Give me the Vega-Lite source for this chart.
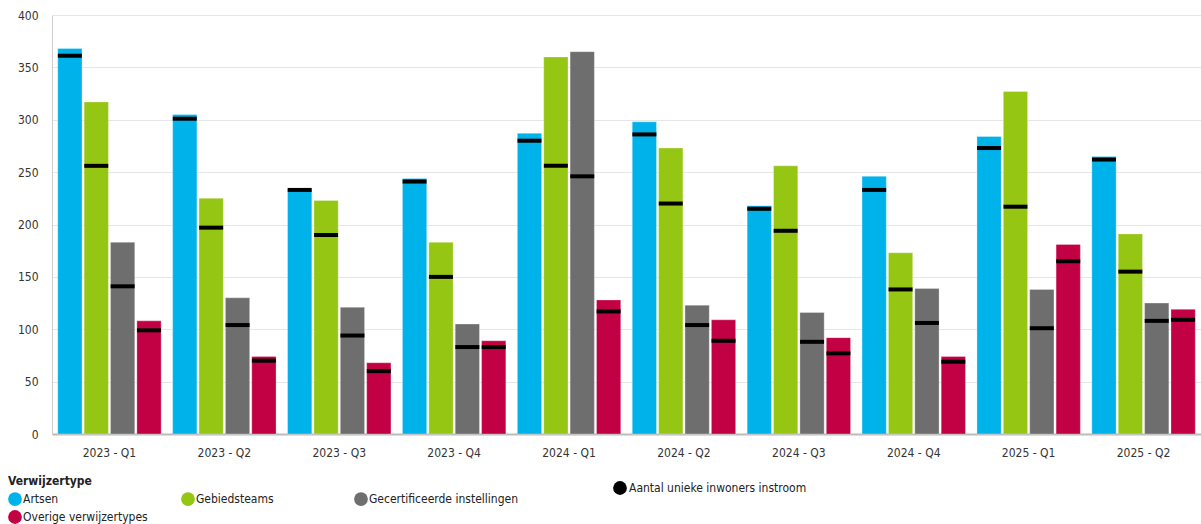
{
  "$schema": "https://vega.github.io/schema/vega-lite/v6.json",
  "width": 1149,
  "height": 419,
  "autosize": {"type": "none"},
  "padding": {"left": 52, "top": 15, "right": 0, "bottom": 90},
  "background": "#ffffff",
  "config": {
    "view": {"stroke": null},
    "font": "Liberation Sans Narrow, DejaVu Sans Condensed, Liberation Sans, sans-serif",
    "axis": {"labelFont": "Liberation Sans Narrow, DejaVu Sans Condensed, sans-serif", "labelFontSize": 12, "labelColor": "#333333"},
    "legend": {"labelFont": "Liberation Sans Narrow, DejaVu Sans Condensed, sans-serif", "titleFont": "Liberation Sans Narrow, DejaVu Sans Condensed, sans-serif"}
  },
  "data": {
    "values": [
      {"kwartaal": "2023 - Q1", "type": "Artsen", "aantal": 368, "uniek": 361},
      {"kwartaal": "2023 - Q1", "type": "Gebiedsteams", "aantal": 317, "uniek": 256},
      {"kwartaal": "2023 - Q1", "type": "Gecertificeerde instellingen", "aantal": 183, "uniek": 141},
      {"kwartaal": "2023 - Q1", "type": "Overige verwijzertypes", "aantal": 108, "uniek": 99},
      {"kwartaal": "2023 - Q2", "type": "Artsen", "aantal": 305, "uniek": 301},
      {"kwartaal": "2023 - Q2", "type": "Gebiedsteams", "aantal": 225, "uniek": 197},
      {"kwartaal": "2023 - Q2", "type": "Gecertificeerde instellingen", "aantal": 130, "uniek": 104},
      {"kwartaal": "2023 - Q2", "type": "Overige verwijzertypes", "aantal": 74, "uniek": 70},
      {"kwartaal": "2023 - Q3", "type": "Artsen", "aantal": 234, "uniek": 233},
      {"kwartaal": "2023 - Q3", "type": "Gebiedsteams", "aantal": 223, "uniek": 190},
      {"kwartaal": "2023 - Q3", "type": "Gecertificeerde instellingen", "aantal": 121, "uniek": 94},
      {"kwartaal": "2023 - Q3", "type": "Overige verwijzertypes", "aantal": 68, "uniek": 60},
      {"kwartaal": "2023 - Q4", "type": "Artsen", "aantal": 244, "uniek": 241},
      {"kwartaal": "2023 - Q4", "type": "Gebiedsteams", "aantal": 183, "uniek": 150},
      {"kwartaal": "2023 - Q4", "type": "Gecertificeerde instellingen", "aantal": 105, "uniek": 83},
      {"kwartaal": "2023 - Q4", "type": "Overige verwijzertypes", "aantal": 89, "uniek": 83},
      {"kwartaal": "2024 - Q1", "type": "Artsen", "aantal": 287, "uniek": 280},
      {"kwartaal": "2024 - Q1", "type": "Gebiedsteams", "aantal": 360, "uniek": 256},
      {"kwartaal": "2024 - Q1", "type": "Gecertificeerde instellingen", "aantal": 365, "uniek": 246},
      {"kwartaal": "2024 - Q1", "type": "Overige verwijzertypes", "aantal": 128, "uniek": 117},
      {"kwartaal": "2024 - Q2", "type": "Artsen", "aantal": 298, "uniek": 286},
      {"kwartaal": "2024 - Q2", "type": "Gebiedsteams", "aantal": 273, "uniek": 220},
      {"kwartaal": "2024 - Q2", "type": "Gecertificeerde instellingen", "aantal": 123, "uniek": 104},
      {"kwartaal": "2024 - Q2", "type": "Overige verwijzertypes", "aantal": 109, "uniek": 89},
      {"kwartaal": "2024 - Q3", "type": "Artsen", "aantal": 218, "uniek": 215},
      {"kwartaal": "2024 - Q3", "type": "Gebiedsteams", "aantal": 256, "uniek": 194},
      {"kwartaal": "2024 - Q3", "type": "Gecertificeerde instellingen", "aantal": 116, "uniek": 88},
      {"kwartaal": "2024 - Q3", "type": "Overige verwijzertypes", "aantal": 92, "uniek": 77},
      {"kwartaal": "2024 - Q4", "type": "Artsen", "aantal": 246, "uniek": 233},
      {"kwartaal": "2024 - Q4", "type": "Gebiedsteams", "aantal": 173, "uniek": 138},
      {"kwartaal": "2024 - Q4", "type": "Gecertificeerde instellingen", "aantal": 139, "uniek": 106},
      {"kwartaal": "2024 - Q4", "type": "Overige verwijzertypes", "aantal": 74, "uniek": 69},
      {"kwartaal": "2025 - Q1", "type": "Artsen", "aantal": 284, "uniek": 273},
      {"kwartaal": "2025 - Q1", "type": "Gebiedsteams", "aantal": 327, "uniek": 217},
      {"kwartaal": "2025 - Q1", "type": "Gecertificeerde instellingen", "aantal": 138, "uniek": 101},
      {"kwartaal": "2025 - Q1", "type": "Overige verwijzertypes", "aantal": 181, "uniek": 165},
      {"kwartaal": "2025 - Q2", "type": "Artsen", "aantal": 265, "uniek": 262},
      {"kwartaal": "2025 - Q2", "type": "Gebiedsteams", "aantal": 191, "uniek": 155},
      {"kwartaal": "2025 - Q2", "type": "Gecertificeerde instellingen", "aantal": 125, "uniek": 108},
      {"kwartaal": "2025 - Q2", "type": "Overige verwijzertypes", "aantal": 119, "uniek": 109}
    ]
  },
  "encoding": {
    "x": {
      "field": "kwartaal", "type": "nominal",
      "scale": {"paddingInner": 0.1, "paddingOuter": 0.05},
      "axis": {"title": null, "labelAngle": 0, "ticks": false, "domainColor": "#bbbbbb", "domainWidth": 2, "labelPadding": 13, "labelFontSize": 12}
    },
    "xOffset": {
      "field": "type", "type": "nominal",
      "scale": {"paddingInner": 0.08, "paddingOuter": 0}
    }
  },
  "layer": [
    {
      "mark": {"type": "bar", "stroke": "#ffffff", "strokeWidth": 0.5, "strokeOpacity": 0.6},
      "encoding": {
        "y": {
          "field": "aantal", "type": "quantitative",
          "scale": {"domain": [0, 400]},
          "axis": {"title": null, "values": [0, 50, 100, 150, 200, 250, 300, 350, 400], "labelOverlap": false, "ticks": false, "domain": true, "domainColor": "#cccccc", "gridColor": "#e6e6e6", "labelPadding": 14, "labelFontSize": 12}
        },
        "color": {
          "field": "type", "type": "nominal",
          "scale": {
            "domain": ["Artsen", "Gebiedsteams", "Gecertificeerde instellingen", "Overige verwijzertypes"],
            "range": ["#00b2ea", "#94c613", "#6e6e6e", "#c20044"]
          },
          "legend": {
            "title": "Verwijzertype", "orient": "none", "legendX": -44, "legendY": 461,
            "direction": "horizontal", "columns": 3, "symbolType": "circle", "symbolSize": 190,
            "titleFontSize": 12, "titleFontWeight": "bold", "titleColor": "#222222", "titlePadding": 4,
            "labelFontSize": 12, "labelColor": "#222222", "labelOffset": 1, "columnPadding": 9,
            "rowPadding": 4, "gridAlign": "all", "symbolStrokeWidth": 0, "symbolOpacity": 1, "labelLimit": 250
          }
        }
      }
    },
    {
      "mark": {"type": "tick", "thickness": 4, "size": 24, "opacity": 1},
      "encoding": {
        "y": {
          "field": "uniek", "type": "quantitative",
          "axis": {"title": null, "values": [0, 50, 100, 150, 200, 250, 300, 350, 400], "labelOverlap": false, "ticks": false, "domain": true, "domainColor": "#cccccc", "gridColor": "#e6e6e6", "labelPadding": 14, "labelFontSize": 12}
        },
        "color": {
          "datum": "Aantal unieke inwoners instroom",
          "scale": {"domain": ["Aantal unieke inwoners instroom"], "range": ["#000000"]},
          "legend": {
            "title": null, "orient": "none", "legendX": 560, "legendY": 465,
            "symbolType": "circle", "symbolSize": 190, "symbolFillColor": "#000000", "symbolOpacity": 1,
            "labelFontSize": 12, "labelColor": "#222222", "labelOffset": 1, "labelLimit": 300
          }
        }
      }
    }
  ],
  "resolve": {"scale": {"color": "independent"}}
}
